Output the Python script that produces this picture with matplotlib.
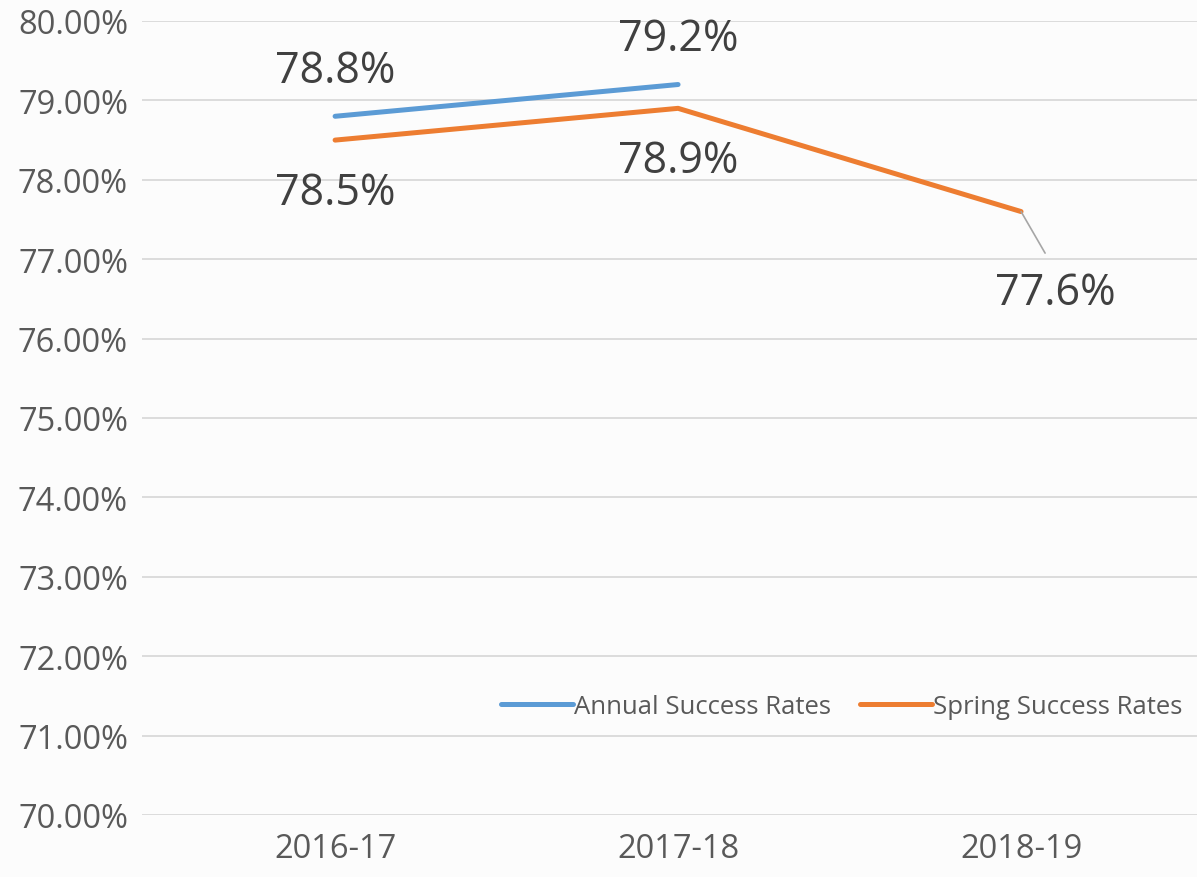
import matplotlib.pyplot as plt
from matplotlib.ticker import FuncFormatter

# Data
years = ["2016-17", "2017-18", "2018-19"]
annual = [78.8, 79.2]
spring = [78.5, 78.9, 77.6]
yticks = [70, 71, 72, 73, 74, 75, 76, 77, 78, 79, 80]

blue = "#5B9BD5"
orange = "#ED7D31"

fig = plt.figure(figsize=(11.97, 8.78), dpi=100)
fig.patch.set_facecolor("#FCFCFC")
ax = fig.add_axes([142 / 1197, 62 / 878, 1055 / 1197, 794 / 878])
ax.set_facecolor("#FCFCFC")

x = list(range(len(years)))
ax.plot(x[:len(annual)], annual, color=blue, lw=3.6, solid_capstyle="round",
        label="Annual Success Rates", zorder=3)
ax.plot(x, spring, color=orange, lw=3.6, solid_capstyle="round",
        label="Spring Success Rates", zorder=3)

ax.set_ylim(70, 80)
ax.set_xlim(-0.563, 2.513)
ax.set_yticks(yticks)
ax.yaxis.set_major_formatter(FuncFormatter(lambda v, p: f"{v:.2f}%"))
ax.set_xticks(x)
ax.set_xticklabels(years)
ax.grid(axis="y", color="#D9D9D9", lw=1.3)
ax.set_axisbelow(True)
for s in ax.spines.values():
    s.set_visible(False)
ax.tick_params(length=0)
ax.tick_params(axis="y", pad=10, labelsize=23.5, labelcolor="#595959")
ax.tick_params(axis="x", pad=12, labelsize=23.5, labelcolor="#595959")
for t in ax.get_xticklabels() + ax.get_yticklabels():
    t.set_family("Open Sans")

lab = dict(fontsize=31, color="#404040", family="Open Sans",
           ha="center", va="center", textcoords="offset pixels")
ax.annotate(f"{annual[0]}%", (0, annual[0]), xytext=(0, 46), **lab)
ax.annotate(f"{annual[1]}%", (1, annual[1]), xytext=(0, 46), **lab)
ax.annotate(f"{spring[0]}%", (0, spring[0]), xytext=(0, -53), **lab)
ax.annotate(f"{spring[1]}%", (1, spring[1]), xytext=(0, -52), **lab)
ax.annotate(f"{spring[2]}%", (2, spring[2]), xytext=(34, -81),
            arrowprops=dict(arrowstyle="-", color="#A6A6A6", lw=1.2,
                            shrinkA=12, shrinkB=0, relpos=(0.5, 1.0)),
            **lab)

leg = ax.legend(loc="center right", bbox_to_anchor=(1.008, 0.137), ncol=2,
                frameon=False, handlelength=2.8, handletextpad=0.05,
                columnspacing=1.1,
                prop={"family": "Open Sans", "size": 18.5})
for t in leg.get_texts():
    t.set_color("#595959")

fig.savefig("out.png", dpi=100, facecolor=fig.get_facecolor())
